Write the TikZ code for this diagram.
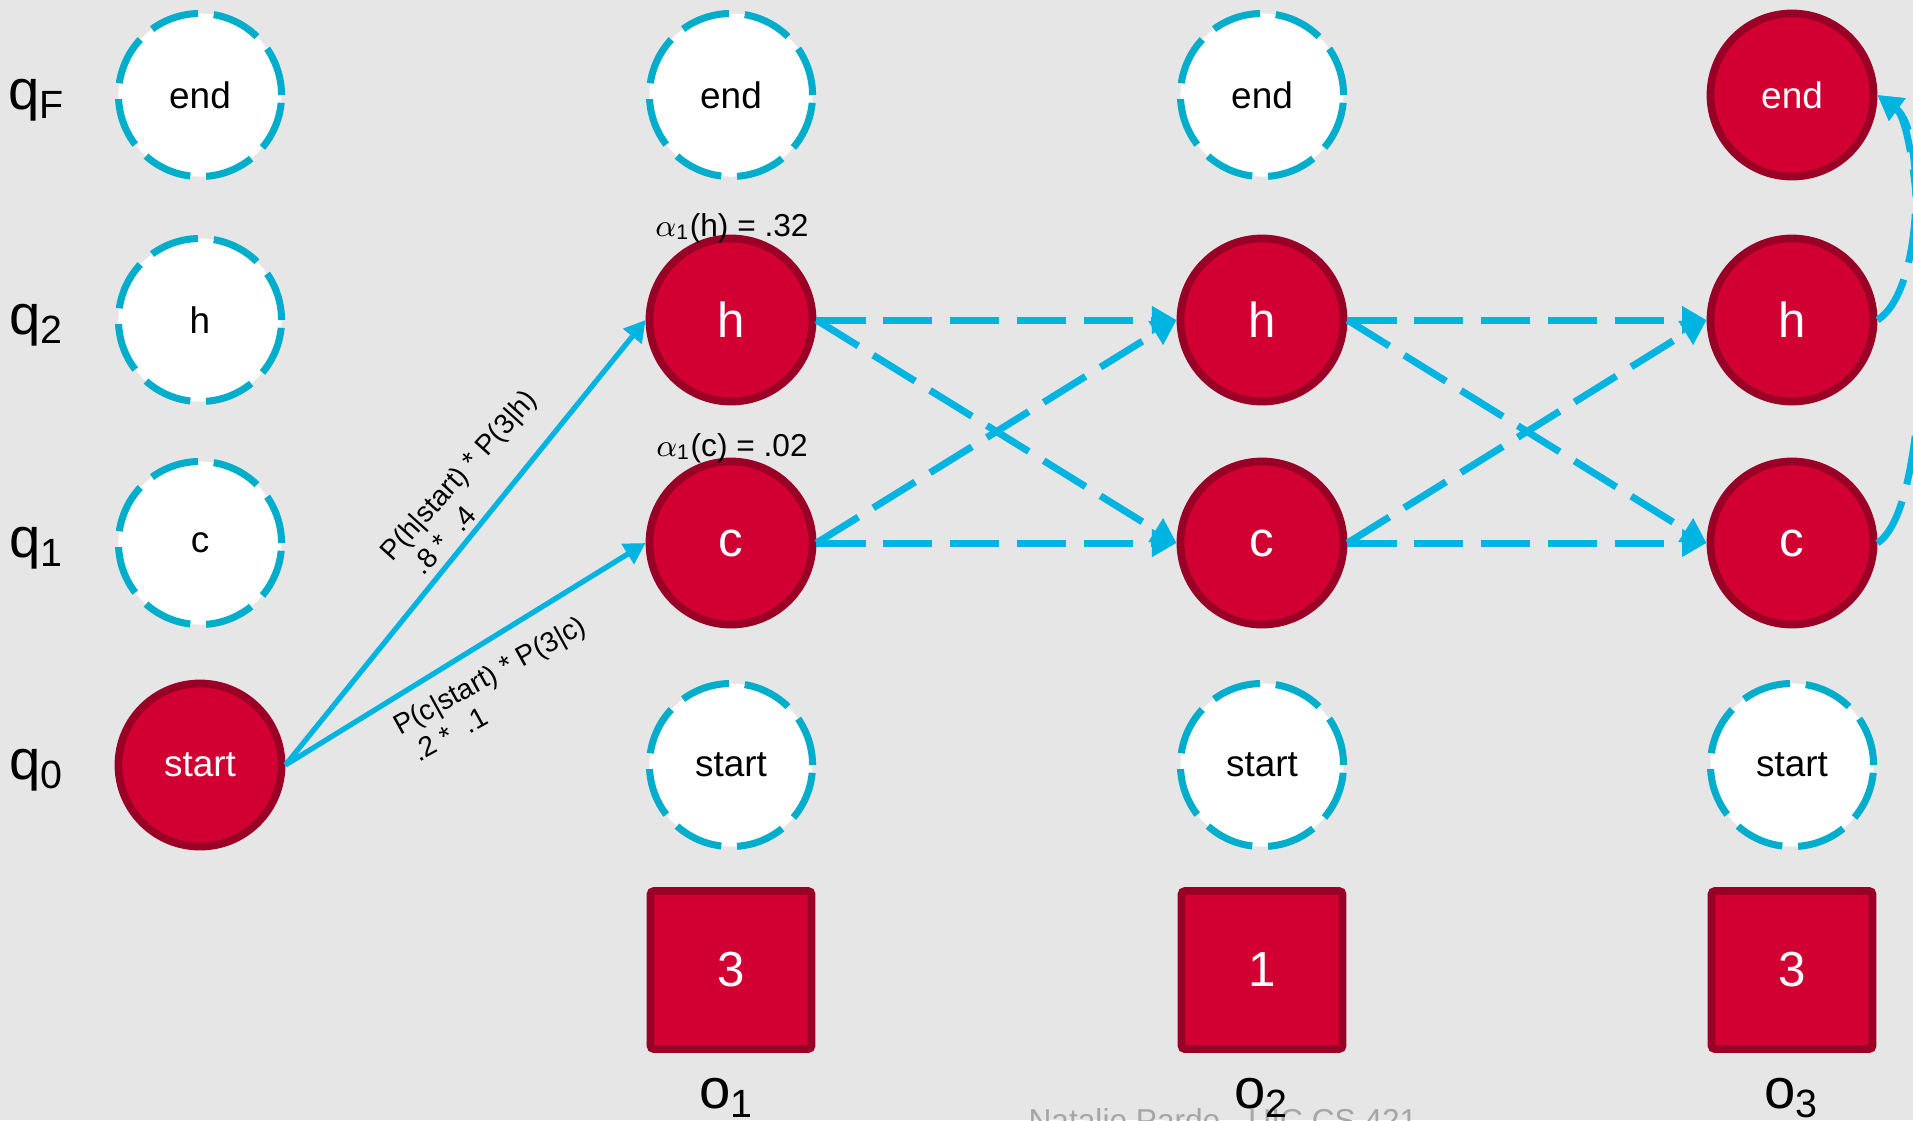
\documentclass[tikz,border=0pt]{standalone}
\usepackage{fontspec}
\setmainfont{Liberation Sans}
\usetikzlibrary{arrows.meta,positioning}

\definecolor{bggray}{HTML}{E6E6E6}
\definecolor{statered}{HTML}{D20032}
\definecolor{darkred}{HTML}{9A0026}
\definecolor{dashblue}{HTML}{00AECC}
\definecolor{arrowblue}{HTML}{00B4E2}
\definecolor{footgray}{HTML}{A6A6A6}

\begin{document}
\begin{tikzpicture}[x=0.01cm,y=-0.01cm,
  redstate/.style={circle,draw=darkred,line width=2.2pt,fill=statered,text=white,minimum size=1.63cm,inner sep=0pt,font=\fontsize{10.5}{12}\selectfont},
  emptystate/.style={circle,draw=dashblue,line width=2pt,dash pattern=on 14pt off 4.5pt,fill=white,minimum size=1.63cm,inner sep=0pt,font=\fontsize{10.5}{12}\selectfont},
  bigletter/.style={font=\fontsize{14}{16}\selectfont},
  obsbox/.style={rectangle,rounded corners=1pt,draw=darkred,line width=2.2pt,fill=statered,text=white,minimum width=1.61cm,minimum height=1.58cm,font=\fontsize{14}{16}\selectfont},
  rowlabel/.style={font=\fontsize{16}{18}\selectfont},
  trans/.style={draw=arrowblue,line width=2pt,dash pattern=on 14pt off 5pt,-{Triangle[length=7pt,width=7.5pt]}},
  startarrow/.style={draw=arrowblue,line width=1.5pt,-{Triangle[length=6pt,width=6.5pt]}},
  problabel/.style={font=\fontsize{8}{10.3}\selectfont,align=left,inner sep=0pt},
  alphalabel/.style={font=\fontsize{9}{11}\selectfont,inner sep=0pt}]
  % Background and page size
  \path[use as bounding box,fill=bggray] (0,0) rectangle (1913,1120);
  \path (1223,1131) node[anchor=base,text=footgray,font=\fontsize{9}{11}\selectfont] (footer) {Natalie Parde - UIC CS 421};
  % Row labels
  \path (37,100) node[rowlabel] (qF) {q\textsubscript{F}};
  \path (37,325) node[rowlabel] (q2) {q\textsubscript{2}};
  \path (37,548) node[rowlabel] (q1) {q\textsubscript{1}};
  \path (37,770) node[rowlabel] (q0) {q\textsubscript{0}};
  % Column 0
  \path (200,95) node[emptystate] (end0) {end};
  \path (200,320) node[emptystate] (h0) {h};
  \path (200,543) node[emptystate] (c0) {c};
  \path (200,765) node[redstate] (start0) {start};
  % Column 1
  \path (731,95) node[emptystate] (end1) {end};
  \path (731,320) node[redstate,bigletter] (h1) {h};
  \path (731,543) node[redstate,bigletter] (c1) {c};
  \path (731,765) node[emptystate] (start1) {start};
  \path (731,970) node[obsbox] (obs1) {3};
  \path (727,1098) node[rowlabel] (o1) {o\textsubscript{1}};
  % Column 2
  \path (1262,95) node[emptystate] (end2) {end};
  \path (1262,320) node[redstate,bigletter] (h2) {h};
  \path (1262,543) node[redstate,bigletter] (c2) {c};
  \path (1262,765) node[emptystate] (start2) {start};
  \path (1262,970) node[obsbox] (obs2) {1};
  \path (1262,1098) node[rowlabel] (o2) {o\textsubscript{2}};
  % Column 3
  \path (1792,95) node[redstate] (end3) {end};
  \path (1792,320) node[redstate,bigletter] (h3) {h};
  \path (1792,543) node[redstate,bigletter] (c3) {c};
  \path (1792,765) node[emptystate] (start3) {start};
  \path (1792,970) node[obsbox] (obs3) {3};
  \path (1792,1098) node[rowlabel] (o3) {o\textsubscript{3}};
  % Forward values
  \path (732,228) node[alphalabel] (alphah) {$\alpha$\textsubscript{1}(h) = .32};
  \path (732,448) node[alphalabel] (alphac) {$\alpha$\textsubscript{1}(c) = .02};
  % Arrows out of start
  \draw[startarrow] (start0.east) -- (h1.west);
  \draw[startarrow] (start0.east) -- (c1.west);
  \path (470,486) node[problabel,rotate=48] (labh) {P(h|start) * P(3|h)\\[-1pt]\hspace{3pt}.8 * \ .4};
  \path (497,689) node[problabel,rotate=29] (labc) {P(c|start) * P(3|c)\\[-1pt]\hspace{1pt}.2 * \ .1};
  % Transitions between columns
  \draw[trans] (h1.east) -- (h2.west);
  \draw[trans] (h1.east) -- (c2.west);
  \draw[trans] (c1.east) -- (h2.west);
  \draw[trans] (c1.east) -- (c2.west);
  \draw[trans] (h2.east) -- (h3.west);
  \draw[trans] (h2.east) -- (c3.west);
  \draw[trans] (c2.east) -- (h3.west);
  \draw[trans] (c2.east) -- (c3.west);
  \draw[trans] (h3.east) .. controls (1925,290) and (1925,130) .. (end3.east);
  \draw[trans] (c3.east) .. controls (1942,500) and (1925,130) .. (end3.east);
\end{tikzpicture}
\end{document}
